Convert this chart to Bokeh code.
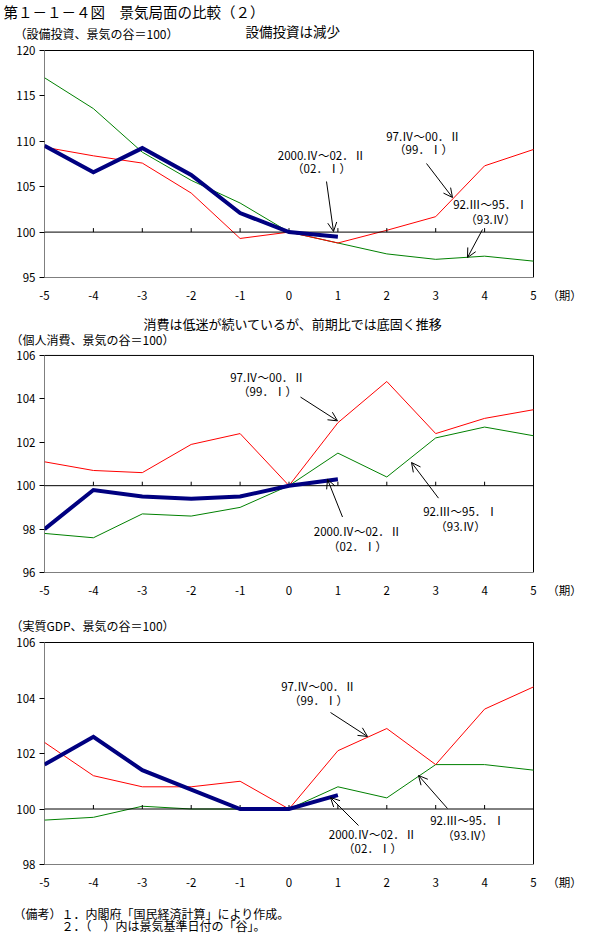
from bokeh.plotting import figure
from bokeh.layouts import column
from bokeh.models import Range1d, Label, Arrow, OpenHead, FixedTicker
from bokeh.embed import file_html
from bokeh.resources import INLINE

# ---------------- data ----------------
periods = [-5, -4, -3, -2, -1, 0, 1, 2, 3, 4, 5]
periods_cur = [-5, -4, -3, -2, -1, 0, 1]
tick_labels = ["-5", "-4", "-3", "-2", "-1", "0", "1", "2", "3", "4", "5"]
unit_label = "（期）"

# 設備投資
inv_9295 = [117.0, 113.6, 108.8, 105.7, 103.2, 100.0, 98.8, 97.6, 97.0, 97.35, 96.8]
inv_9700 = [109.35, 108.4, 107.6, 104.3, 99.3, 100.0, 98.8, 100.2, 101.7, 107.3, 109.1]
inv_0002 = [109.5, 106.6, 109.25, 106.3, 102.1, 100.0, 99.5]

# 個人消費
con_9295 = [97.8, 97.6, 98.7, 98.6, 99.0, 100.0, 101.5, 100.4, 102.2, 102.7, 102.3]
con_9700 = [101.1, 100.7, 100.6, 101.9, 102.4, 100.0, 102.9, 104.8, 102.4, 103.1, 103.5]
con_0002 = [98.0, 99.8, 99.5, 99.4, 99.5, 100.0, 100.3]

# 実質GDP
gdp_9295 = [99.6, 99.7, 100.1, 100.0, 100.0, 100.0, 100.8, 100.4, 101.6, 101.6, 101.4]
gdp_9700 = [102.4, 101.2, 100.8, 100.8, 101.0, 100.0, 102.1, 102.9, 101.6, 103.6, 104.4]
gdp_0002 = [101.6, 102.6, 101.4, 100.7, 100.0, 100.0, 100.5]

series_names = ["92.Ⅲ～95．Ⅰ", "97.Ⅳ～00．Ⅱ", "2000.Ⅳ～02．Ⅱ"]
series_troughs = ["（93.Ⅳ）", "（99．Ⅰ）", "（02．Ⅰ）"]

# ---------------- style ----------------
JP = "Noto Sans CJK JP"
W = 598
FL, FR = 44, 533  # box left/right in page px
UNIT_PX = 564     # centre of the （期） label
ANN = "11.5px"

GREEN = "#008000"
RED = "#FF0000"
NAVY = "#000080"


def no_align(p):
    try:
        p.frame_align = False
    except Exception:
        pass


def text_band(top, h, texts):
    """A strip whose frame is the whole canvas; texts given in page pixels."""
    p = figure(width=W, height=h, x_range=Range1d(0, W), y_range=Range1d(top + h, top),
               output_backend="svg", toolbar_location=None,
               x_axis_type=None, y_axis_type=None, min_border=0,
               min_border_left=0, min_border_right=0, min_border_top=0, min_border_bottom=0)
    no_align(p)
    p.grid.visible = False
    p.outline_line_color = None
    p.background_fill_color = "white"
    p.border_fill_color = "white"
    for (px, py, text, size, align) in texts:
        p.add_layout(Label(x=px, y=py, text=text, text_font=JP, text_font_size=size,
                           text_align=align, text_baseline="middle", text_color="black"))
    return p


def make_panel(top, h, T, B, ylo, yhi, ystep, vals):
    yscale = (yhi - ylo) / (B - T)
    xscale = 10.0 / (FR - FL)
    xmax = 5 + (W - FR) * xscale
    ymax = yhi + (T - top) * yscale
    unit_x = 5 + (UNIT_PX - FR) * xscale
    p = figure(width=W, height=h, x_range=Range1d(-5, xmax), y_range=Range1d(ylo, ymax),
               output_backend="svg", toolbar_location=None,
               min_border_left=FL, min_border_right=0,
               min_border_top=0, min_border_bottom=top + h - B)
    no_align(p)
    p.grid.visible = False
    p.outline_line_color = None
    p.background_fill_color = "white"
    p.border_fill_color = "white"

    p.xaxis.ticker = FixedTicker(ticks=periods + [unit_x])
    ov = {k: v for k, v in zip(periods, tick_labels)}
    ov[unit_x] = unit_label
    p.xaxis.major_label_overrides = ov
    p.xaxis.major_tick_out = 0
    p.xaxis.major_tick_in = 0
    p.xaxis.minor_tick_line_color = None
    p.xaxis.major_label_standoff = 9
    p.yaxis.ticker = FixedTicker(ticks=list(range(ylo, yhi + 1, ystep)))
    p.yaxis.major_tick_out = 5
    p.yaxis.major_tick_in = 0
    p.yaxis.minor_tick_line_color = None
    p.yaxis.major_label_standoff = 4
    for ax in (p.xaxis, p.yaxis):
        ax.major_label_text_font = JP
        ax.major_label_text_font_size = "11.5px"
        ax.major_label_text_color = "black"
        ax.axis_line_color = None
        ax.major_tick_line_color = "black"

    # plot box
    p.quad(left=-5, right=5, bottom=ylo, top=yhi, fill_color=None,
           line_color="black", line_width=1)

    g, r, b = vals
    p.line(periods, g, line_color=GREEN, line_width=1)
    p.line(periods, r, line_color=RED, line_width=1)
    # reference line at 100 with small tick marks
    p.line([-5, 5], [100, 100], line_color="black", line_width=1)
    tl = 4.0 * yscale
    inner = periods[1:-1]
    p.segment(x0=inner, y0=[100] * len(inner), x1=inner, y1=[100 + tl] * len(inner),
              line_color="black", line_width=1)
    p.line(periods_cur, b, line_color=NAVY, line_width=4, line_join="miter")

    def px2d(px, py):
        return -5 + (px - FL) * xscale, yhi - (py - T) * yscale

    def label(px, py, text, size=ANN, align="center"):
        x, y = px2d(px, py)
        p.add_layout(Label(x=x, y=y, text=text, text_font=JP, text_font_size=size,
                           text_align=align, text_baseline="middle", text_color="black"))

    def arrow(x0, y0, x1, y1):
        a, b_ = px2d(x0, y0)
        c, d = px2d(x1, y1)
        p.add_layout(Arrow(end=OpenHead(size=9, line_width=1, line_color="black"),
                           x_start=a, y_start=b_, x_end=c, y_end=d,
                           line_color="black", line_width=1))

    p._label = label
    p._arrow = arrow
    return p


# ---------- header 1 ----------
h1 = text_band(0, 42, [
    (3, 11, "第１－１－４図　景気局面の比較（２）", "14.5px", "left"),
    (14, 33, "（設備投資、景気の谷＝100）", "12px", "left"),
    (245, 30, "設備投資は減少", "13.5px", "left"),
])

# ---------- panel 1 : 設備投資 ----------
p1 = make_panel(42, 264, 50, 277, 95, 120, 5, (inv_9295, inv_9700, inv_0002))
p1._label(321, 154, series_names[2])
p1._label(321, 167, series_troughs[2])
p1._arrow(326, 181, 333, 231)
p1._label(423, 135, series_names[1])
p1._label(423, 148, series_troughs[1])
p1._arrow(426, 163, 452, 197)
p1._label(490, 203, series_names[0])
p1._label(490, 218, series_troughs[0])
p1._arrow(482, 229, 467, 257)

# ---------- header 2 ----------
h2 = text_band(306, 42, [
    (143, 323, "消費は低迷が続いているが、前期比では底固く推移", "13px", "left"),
    (10, 339, "（個人消費、景気の谷＝100）", "12px", "left"),
])

# ---------- panel 2 : 個人消費 ----------
p2 = make_panel(348, 252, 355, 574, 96, 106, 2, (con_9295, con_9700, con_0002))
p2._label(267, 377, series_names[1])
p2._label(267, 391, series_troughs[1])
p2._arrow(300, 397, 337, 421)
p2._label(357, 532, series_names[2])
p2._label(357, 547, series_troughs[2])
p2._arrow(342, 518, 327, 480)
p2._label(460, 512, series_names[0])
p2._label(460, 527, series_troughs[0])
p2._arrow(438, 499, 411, 463)

# ---------- header 3 ----------
h3 = text_band(600, 34, [
    (10, 625, "（実質GDP、景気の谷＝100）", "12px", "left"),
])

# ---------- panel 3 : 実質GDP ----------
p3 = make_panel(634, 262, 642, 864, 98, 106, 2, (gdp_9295, gdp_9700, gdp_0002))
p3._label(318, 685, series_names[1])
p3._label(318, 699, series_troughs[1])
p3._arrow(330, 712, 367, 736)
p3._label(372, 833, series_names[2])
p3._label(372, 847, series_troughs[2])
p3._arrow(358, 825, 330, 797)
p3._label(467, 819, series_names[0])
p3._label(467, 834, series_troughs[0])
p3._arrow(447, 808, 418, 775)

# ---------- notes ----------
notes = text_band(896, 50, [
    (13, 913, "（備考）１．内閣府「国民経済計算」により作成。", "12px", "left"),
    (61, 925, "２．（　）内は景気基準日付の「谷」。", "12px", "left"),
])

layout = column(h1, p1, h2, p2, h3, p3, notes, spacing=0)
open("out.html", "w").write(file_html(layout, INLINE))
